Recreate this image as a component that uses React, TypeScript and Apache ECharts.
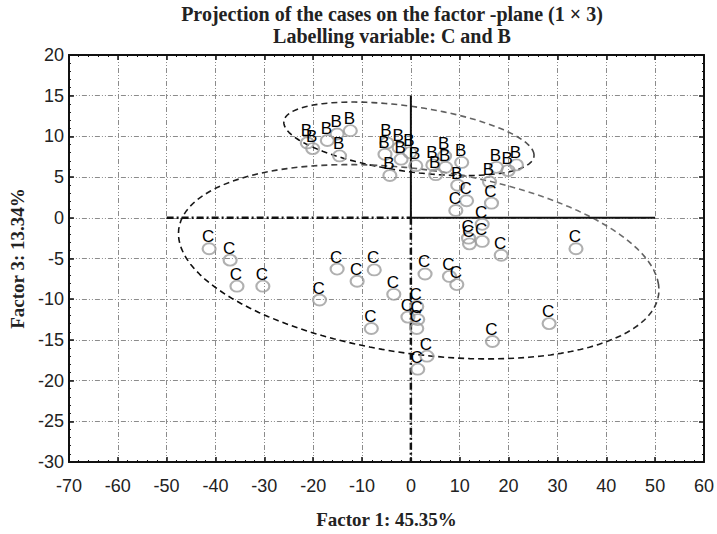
import React, { useEffect, useRef } from "react";
import * as echarts from "echarts";

// ---- data (Factor 1, Factor 3) ----
const B_POINTS: [number, number][] = [
  [-21.2, 9.2], [-20.1, 8.5], [-17.1, 9.5], [-15.1, 10.3], [-12.4, 10.7], [-14.6, 7.6],
  [-4.9, 9.2], [-5.3, 7.8], [-4.3, 5.2], [-2.4, 8.6], [-2.0, 7.2], [-0.2, 8.0],
  [1.0, 6.4], [4.5, 6.5], [5.1, 5.3], [6.9, 7.6], [7.1, 6.2], [10.4, 6.8],
  [9.6, 4.0], [16.1, 4.4], [17.5, 6.2], [19.9, 5.8], [21.6, 6.5],
];
const C_POINTS: [number, number][] = [
  [11.4, 2.1], [9.2, 0.9], [16.5, 1.8], [14.6, -0.8], [11.8, -2.5], [12.0, -3.2],
  [14.6, -2.9], [18.5, -4.6], [33.8, -3.8], [2.9, -6.9], [7.9, -7.2], [9.4, -8.2],
  [-3.5, -9.4], [-0.6, -12.2], [1.2, -10.9], [1.4, -12.5], [1.2, -13.6], [28.3, -13.0],
  [16.7, -15.2], [3.3, -17.0], [1.4, -18.6],
  [-41.3, -3.8], [-37.0, -5.2], [-35.6, -8.4], [-30.3, -8.4], [-18.7, -10.1],
  [-15.1, -6.3], [-11.0, -7.8], [-7.5, -6.4], [-8.1, -13.6],
];

// ellipses: centre, end of one semi-diameter, end of its conjugate
const ELLIPSE_B_CENTER = [-0.4, 9.7];
const ELLIPSE_B_MAJOR = [25.2, 7.8];
const ELLIPSE_B_MINOR = [-1.2, 13.8];
const ELLIPSE_C_CENTER = [1.6, -5.4];
const ELLIPSE_C_MAJOR = [50.7, -8.2];
const ELLIPSE_C_MINOR = [-1.2, 6.2];

// reference axes through the origin
const SOLID_H: [number, number][] = [[0, 0], [50, 0]];
const SOLID_V: [number, number][] = [[0, 0], [0, 15]];
const DASHED_H: [number, number][] = [[-50, 0], [0, 0]];
const DASHED_V: [number, number][] = [[0, 0], [0, -30]];

const X_MIN = -70, X_MAX = 60, X_STEP = 10;
const Y_MIN = -30, Y_MAX = 20, Y_STEP = 5;

function ellipsePoints(c: number[], a: number[], b: number[]): number[][] {
  const pts: number[][] = [];
  const n = 120;
  for (let i = 0; i <= n; i++) {
    const t = (i / n) * Math.PI * 2;
    pts.push([
      c[0] + Math.cos(t) * (a[0] - c[0]) + Math.sin(t) * (b[0] - c[0]),
      c[1] + Math.cos(t) * (a[1] - c[1]) + Math.sin(t) * (b[1] - c[1]),
    ]);
  }
  return pts;
}

const SANS = "'Liberation Sans', Arial, sans-serif";
const SERIF = "'Liberation Serif', 'Times New Roman', serif";
const GRID_LINE = { show: true, lineStyle: { color: "#8c8c8c", width: 1, type: [5, 2, 1, 2, 1, 2] as any } };
const RING = "path://M0,5A6,5,0,1,1,12,5A6,5,0,1,1,0,5Z";

export default function App() {
  const ref = useRef<HTMLDivElement>(null);
  useEffect(() => {
    if (!ref.current) return;
    const chart = echarts.init(ref.current, undefined, { renderer: "svg" });
    const ellGrad = () =>
      new echarts.graphic.LinearGradient(0, 1, 1, 0, [
        { offset: 0, color: "#000" },
        { offset: 0.55, color: "#222" },
        { offset: 1, color: "#b0b0b0" },
      ]);
    const axisCommon = {
      type: "value" as const,
      axisLine: { show: true, onZero: false, lineStyle: { color: "#111", width: 2 } },
      axisTick: { show: true, inside: true, length: 5, lineStyle: { color: "#111", width: 1.5 } },
      minorTick: { show: true, splitNumber: 5, length: 2, lineStyle: { color: "#111", width: 1 } },
    };
    const scatterCommon = {
      type: "scatter" as const,
      symbol: RING,
      symbolSize: [13, 11],
      itemStyle: { color: "rgba(0,0,0,0)", borderColor: "#9c9c9c", borderWidth: 2 },
      label: {
        show: true,
        position: "inside" as const,
        offset: [-1, -12],
        fontFamily: SANS,
        fontSize: 17,
        color: "#000",
        opacity: 1,
        textBorderWidth: 0,
        textBorderColor: "transparent",
      },
      z: 5,
    };
    const refLine = (data: number[][], style: any) => ({
      type: "line" as const,
      data,
      showSymbol: false,
      symbol: "none",
      lineStyle: style,
      silent: true,
      z: 3,
    });
    chart.setOption({
      animation: false,
      title: {
        text: "Projection of the cases on the factor -plane (1 × 3)\nLabelling variable: C and B",
        left: 387,
        top: -2,
        textAlign: "center",
        textStyle: { fontFamily: SERIF, fontWeight: "bold", fontSize: 20, color: "#222", lineHeight: 22 },
      },
      grid: { left: 67, right: 10, top: 55, bottom: 67 },
      xAxis: [
        {
          ...axisCommon,
          position: "bottom",
          min: X_MIN,
          max: X_MAX,
          interval: X_STEP,
          axisLabel: { fontFamily: SANS, fontSize: 18, color: "#222", margin: 15 },
          splitLine: GRID_LINE,
          name: "Factor 1: 45.35%",
          nameLocation: "middle",
          nameGap: 48,
          nameTextStyle: { fontFamily: SERIF, fontWeight: "bold", fontSize: 19, color: "#222" },
        },
        {
          ...axisCommon,
          position: "top",
          min: X_MIN,
          max: X_MAX,
          interval: X_STEP,
          axisLabel: { show: false },
          splitLine: { show: false },
        },
      ],
      yAxis: [
        {
          ...axisCommon,
          position: "left",
          min: Y_MIN,
          max: Y_MAX,
          interval: Y_STEP,
          axisLabel: { fontFamily: SANS, fontSize: 18, color: "#222", margin: 5 },
          splitLine: GRID_LINE,
          name: "Factor 3: 13.34%",
          nameLocation: "middle",
          nameGap: 36,
          nameTextStyle: { fontFamily: SERIF, fontWeight: "bold", fontSize: 19, color: "#222" },
        },
        {
          ...axisCommon,
          position: "right",
          min: Y_MIN,
          max: Y_MAX,
          interval: Y_STEP,
          axisLabel: { show: false },
          splitLine: { show: false },
        },
      ],
      series: [
        {
          type: "line",
          data: ellipsePoints(ELLIPSE_B_CENTER, ELLIPSE_B_MAJOR, ELLIPSE_B_MINOR),
          showSymbol: false,
          symbol: "none",
          lineStyle: { color: ellGrad(), width: 1.6, type: [6, 4] },
          z: 2,
          silent: true,
        },
        {
          type: "line",
          data: ellipsePoints(ELLIPSE_C_CENTER, ELLIPSE_C_MAJOR, ELLIPSE_C_MINOR),
          showSymbol: false,
          symbol: "none",
          lineStyle: { color: ellGrad(), width: 1.6, type: [6, 4] },
          z: 2,
          silent: true,
        },
        refLine(SOLID_H, { color: "#111", width: 2, type: "solid" }),
        refLine(SOLID_V, { color: "#111", width: 2, type: "solid" }),
        refLine(DASHED_H, { color: "#111", width: 2.5, type: [7, 3, 2, 3] }),
        refLine(DASHED_V, { color: "#111", width: 2.5, type: [7, 3, 2, 3] }),
        { ...scatterCommon, name: "B", data: B_POINTS, label: { ...scatterCommon.label, formatter: "B" } },
        { ...scatterCommon, name: "C", data: C_POINTS, label: { ...scatterCommon.label, formatter: "C" } },
      ],
    });
    return () => chart.dispose();
  }, []);
  return (
    <div
      ref={ref}
      style={{ position: "fixed", left: 0, top: 0, width: 717, height: 534, background: "#fff" }}
    />
  );
}
